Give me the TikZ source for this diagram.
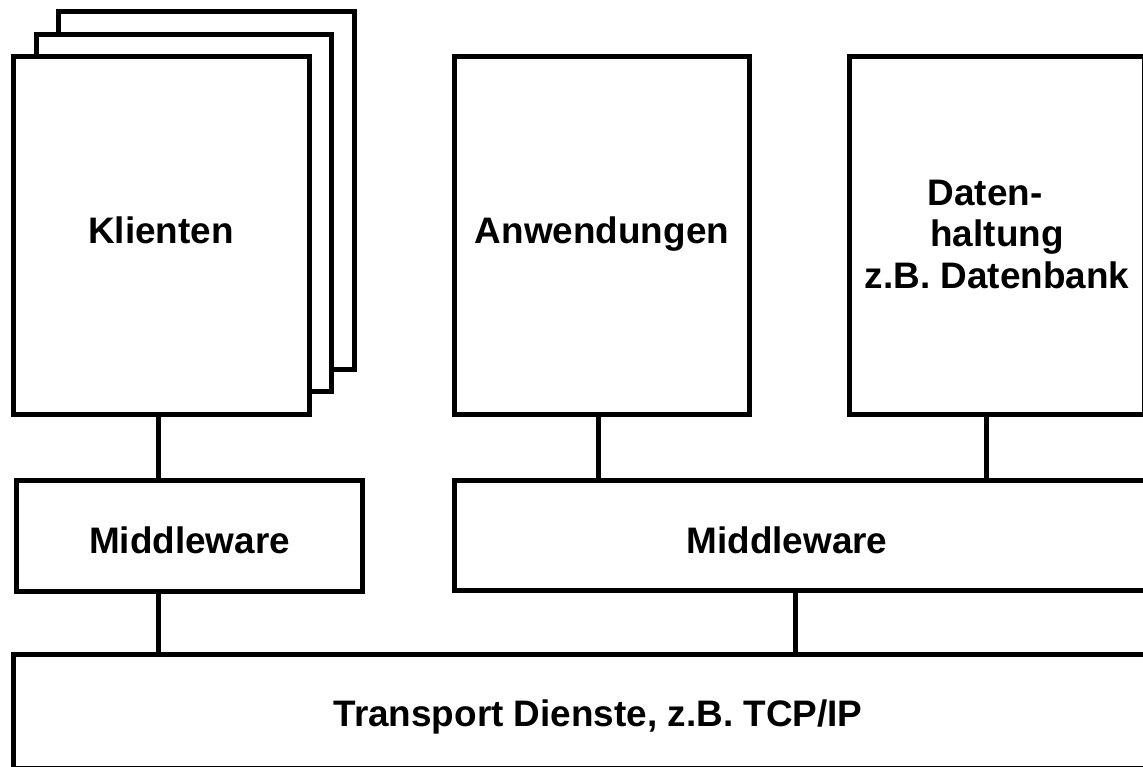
\documentclass[tikz,border=0pt]{standalone}
\usepackage{fontspec}
\setmainfont{Liberation Sans}
\begin{document}
\begin{tikzpicture}[x=0.02cm,y=-0.02cm,
  box/.style={draw=black,fill=white,line width=0.1cm,inner sep=0pt},
  lbl/.style={inner sep=0pt,anchor=base,font=\fontsize{21pt}{23.5pt}\selectfont\bfseries,align=center},
  conn/.style={line width=0.1cm}]
\useasboundingbox (0,0) rectangle (1143,767);
\clip (0,0) rectangle (1143,767);
% stacked client boxes
\node[box,minimum width=5.92cm,minimum height=7.16cm] (k3) at (206.5,190.5) {};
\node[box,minimum width=5.92cm,minimum height=7.16cm] (k2) at (184,213) {};
\node[box,minimum width=5.92cm,minimum height=7.16cm] (kl) at (161.5,235.5) {};
\node[lbl] (kll) at (161,243) {Klienten};
\node[box,minimum width=5.92cm,minimum height=7.16cm] (anw) at (602,235.5) {};
\node[lbl] (anwl) at (602,243) {Anwendungen};
\node[box,minimum width=5.92cm,minimum height=7.16cm] (dat) at (997,235.5) {};
\node[lbl] (datl) at (997,288) {Daten-\hspace*{0.65em}\\haltung\hspace*{0.75em}\\z.B. Datenbank};
\node[box,minimum width=6.92cm,minimum height=2.24cm] (mwl) at (189.5,536) {};
\node[lbl] (mwll) at (189.5,553) {Middleware};
\node[box,minimum width=13.88cm,minimum height=2.22cm] (mwr) at (801,535.5) {};
\node[lbl] (mwrl) at (787,553.5) {Middleware};
\node[box,minimum width=22.69cm,minimum height=2.29cm] (tr) at (580.75,711.75) {};
\node[lbl] (trl) at (598,726) {Transport Dienste, z.B. TCP/IP};
% connectors
\draw[conn] ([xshift=-0.06cm]kl.south) -- ([xshift=-0.06cm]kl.south |- mwl.north);
\draw[conn] ([xshift=-0.07cm]anw.south) -- ([xshift=-0.07cm]anw.south |- mwr.north);
\draw[conn] ([xshift=-0.22cm]dat.south) -- ([xshift=-0.22cm]dat.south |- mwr.north);
\draw[conn] ([xshift=-0.06cm]kl.south |- mwl.south) -- ([xshift=-0.06cm]kl.south |- tr.north);
\draw[conn] ([xshift=-0.12cm]mwr.south) -- ([xshift=-0.12cm]mwr.south |- tr.north);
\end{tikzpicture}
\end{document}
